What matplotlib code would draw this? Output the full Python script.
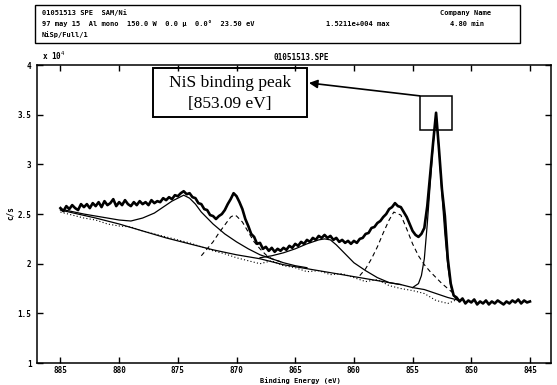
"""XPS Ni 2p spectrum with peak fit (NiS binding peak)."""

import numpy as np
import matplotlib.pyplot as plt
from matplotlib.patches import Rectangle

# measured spectrum, 885 -> 845 eV in 0.25 eV steps (counts x 1e4)
energy = np.linspace(885, 845, 161)
counts = [
    2.56, 2.53, 2.58, 2.55, 2.59, 2.56, 2.54, 2.60, 2.57, 2.60,
    2.56, 2.61, 2.58, 2.62, 2.57, 2.63, 2.59, 2.61, 2.65, 2.58,
    2.62, 2.59, 2.64, 2.60, 2.58, 2.62, 2.59, 2.63, 2.60, 2.62,
    2.59, 2.64, 2.61, 2.63, 2.62, 2.66, 2.64, 2.67, 2.65, 2.69,
    2.68, 2.71, 2.73, 2.70, 2.71, 2.67, 2.66, 2.61, 2.60, 2.55,
    2.54, 2.49, 2.48, 2.45, 2.48, 2.50, 2.54, 2.60, 2.65, 2.71,
    2.68, 2.62, 2.55, 2.45, 2.38, 2.30, 2.27, 2.20, 2.21, 2.15,
    2.17, 2.13, 2.16, 2.12, 2.15, 2.13, 2.16, 2.14, 2.18, 2.16,
    2.20, 2.18, 2.22, 2.20, 2.24, 2.22, 2.26, 2.24, 2.28, 2.26,
    2.29, 2.26, 2.28, 2.24, 2.26, 2.22, 2.24, 2.21, 2.23, 2.20,
    2.23, 2.21, 2.25, 2.26, 2.30, 2.31, 2.36, 2.37, 2.41, 2.43,
    2.47, 2.50, 2.55, 2.57, 2.61, 2.58, 2.57, 2.52, 2.47, 2.40,
    2.33, 2.29, 2.27, 2.30, 2.36, 2.58, 2.90, 3.22, 3.52, 3.15,
    2.75, 2.48, 2.05, 1.80, 1.68, 1.66, 1.62, 1.65, 1.60, 1.63,
    1.61, 1.64, 1.59, 1.62, 1.60, 1.63, 1.59, 1.62, 1.60, 1.63,
    1.61, 1.59, 1.62, 1.60, 1.63, 1.61, 1.64, 1.60, 1.63, 1.61,
    1.62,
]

# Shirley-type background
bg_e = [885, 882, 880, 878, 876, 874, 872, 870, 868, 866, 864, 862,
        860, 858, 856, 855, 854, 853, 852, 851]
bg_c = [2.54, 2.46, 2.40, 2.33, 2.26, 2.20, 2.14, 2.09, 2.05, 1.99, 1.95, 1.91,
        1.87, 1.83, 1.79, 1.76, 1.74, 1.70, 1.66, 1.63]

# background-subtracted residual points (dotted)
resid_e = [885, 884, 883, 882, 881, 880, 879, 878, 877, 876, 875, 874,
           873, 872, 871, 870, 869, 868, 867, 866, 865, 864, 863, 862,
           861, 860, 859, 858, 857, 856, 855, 854, 853, 852, 851]
resid_c = [2.52, 2.49, 2.46, 2.44, 2.40, 2.38, 2.37, 2.33, 2.30, 2.27, 2.24, 2.21,
           2.17, 2.13, 2.10, 2.06, 2.03, 2.00, 2.03, 1.98, 1.96, 1.92, 1.93, 1.89,
           1.90, 1.86, 1.82, 1.84, 1.78, 1.75, 1.73, 1.70, 1.63, 1.60, 1.65]

# fitted components (each on top of background)
comp1_e = [885, 883, 881, 880, 879, 878, 877, 876, 875.5, 875, 874.5, 874,
           873.5, 873, 872, 871, 870, 869, 868, 867, 866, 865, 864]
comp1_c = [2.55, 2.50, 2.46, 2.44, 2.43, 2.46, 2.51, 2.59, 2.63, 2.66, 2.69, 2.66,
           2.60, 2.52, 2.40, 2.30, 2.22, 2.15, 2.09, 2.05, 2.01, 1.98, 1.96]

comp2_e = [873, 872.5, 872, 871.5, 871, 870.5, 870.2, 870, 869.5, 869, 868.5,
           868, 867.5, 867, 866]
comp2_c = [2.08, 2.15, 2.22, 2.31, 2.39, 2.47, 2.49, 2.48, 2.42, 2.32, 2.22,
           2.15, 2.09, 2.05, 2.01]

comp3_e = [868, 867, 866, 865, 864, 863, 862.5, 862, 861.5, 861, 860.5, 860,
           859, 858, 857, 856]
comp3_c = [2.06, 2.08, 2.11, 2.15, 2.20, 2.24, 2.25, 2.24, 2.19, 2.13, 2.07, 2.01,
           1.93, 1.86, 1.81, 1.79]

comp4_e = [859.5, 859, 858.5, 858, 857.5, 857, 856.6, 856, 855.5, 855, 854.5,
           854, 853.5, 853, 852.5, 852, 851.5]
comp4_c = [1.88, 1.95, 2.05, 2.17, 2.31, 2.44, 2.52, 2.49, 2.35, 2.20, 2.08,
           1.99, 1.92, 1.86, 1.80, 1.75, 1.70]

nis_e = [855, 854.5, 854.25, 854, 853.75, 853.5, 853.25, 853, 852.75, 852.5,
         852.25, 852, 851.75, 851.5, 851.25, 851]
nis_c = [1.76, 1.80, 1.88, 2.05, 2.40, 2.80, 3.20, 3.50, 3.15, 2.70,
         2.30, 1.98, 1.78, 1.68, 1.64, 1.63]

x_ticks = [885, 880, 875, 870, 865, 860, 855, 850, 845]
y_ticks = [1, 1.5, 2, 2.5, 3, 3.5, 4]
y_tick_labels = ["1", "1.5", "2", "2.5", "3", "3.5", "4"]

mono = {"family": "DejaVu Sans Mono", "weight": "bold"}

fig = plt.figure(figsize=(5.57, 3.85), dpi=100)
ax = fig.add_axes([0.0664, 0.057, 0.923, 0.774])

ax.plot(energy, counts, color="black", lw=1.9)
ax.plot(bg_e, bg_c, color="black", lw=0.9)
ax.plot(resid_e, resid_c, color="black", lw=0.8, linestyle=(0, (1, 2)))
ax.plot(comp1_e, comp1_c, color="black", lw=0.9)
ax.plot(comp2_e, comp2_c, color="black", lw=0.8, linestyle=(0, (4, 3)))
ax.plot(comp3_e, comp3_c, color="black", lw=0.9)
ax.plot(comp4_e, comp4_c, color="black", lw=0.8, linestyle=(0, (4, 3)))
ax.plot(nis_e, nis_c, color="black", lw=0.9)

ax.set_xlim(887, 843.2)
ax.set_ylim(1, 4)
ax.set_xticks(x_ticks)
ax.set_xticklabels([str(t) for t in x_ticks], fontdict=mono, fontsize=5.5)
ax.set_yticks(y_ticks)
ax.set_yticklabels(y_tick_labels, fontdict=mono, fontsize=5.5)
ax.tick_params(direction="in", length=4, width=1, top=True, right=True, pad=4)
ax.tick_params(axis="x", pad=2)
for s in ax.spines.values():
    s.set_linewidth(1.1)

fig.text(300 / 557, 1 - 381 / 385, "Binding Energy (eV)", ha="center",
         va="center", fontsize=5, **mono)
fig.text(10 / 557, 1 - 213 / 385, "c/s", ha="center", va="center",
         rotation=90, fontsize=5.5, **mono)
fig.text(0.075, 0.845, r"x 10$^4$", fontsize=5.5, **mono)
fig.text(0.54, 0.845, "01051513.SPE", fontsize=5.5, ha="center", **mono)

# small box around the NiS peak and the label box with arrow
i_peak = int(np.argmax(counts))
px, py = energy[i_peak], counts[i_peak]
ax.add_patch(Rectangle((px + 1.4, py - 0.17), -2.8, 0.34, fill=False,
                       edgecolor="black", lw=1.1))
ax.add_patch(Rectangle((0.2257, 0.8255), 0.2993, 0.1645, transform=ax.transAxes,
                       fill=False, edgecolor="black", lw=1.4))
ax.text(0.375, 0.94, "NiS binding peak", transform=ax.transAxes, ha="center",
        va="center", family="Liberation Serif", fontsize=12.5)
ax.text(0.375, 0.87, "[853.09 eV]", transform=ax.transAxes, ha="center",
        va="center", family="Liberation Serif", fontsize=12.5)
ax.annotate("", xy=(0.529, 0.94), xycoords="axes fraction",
            xytext=(px + 1.4, py + 0.17), textcoords="data",
            arrowprops=dict(arrowstyle="-|>,head_length=0.5,head_width=0.25",
                            color="black", lw=1.2, shrinkA=0, shrinkB=0))

# header box
fig.add_artist(Rectangle((35 / 557, 1 - 43 / 385), 485 / 557, 38 / 385,
                         transform=fig.transFigure, fill=False,
                         edgecolor="black", lw=1.0))
hdr = dict(fontsize=5, **mono)
fig.text(42 / 557, 1 - 13 / 385, "01051513 SPE  SAM/Ni", va="center", **hdr)
fig.text(42 / 557, 1 - 24 / 385,
         "97 may 15  Al mono  150.0 W  0.0 \u03bc  0.0\u00b0  23.50 eV",
         va="center", **hdr)
fig.text(42 / 557, 1 - 35 / 385, "NiSp/Full/1", va="center", **hdr)
fig.text(326 / 557, 1 - 24 / 385, "1.5211e+004 max", va="center", **hdr)
fig.text(465 / 557, 1 - 13 / 385, "Company Name", va="center", ha="center", **hdr)
fig.text(467 / 557, 1 - 24 / 385, "4.80 min", va="center", ha="center", **hdr)

fig.savefig("out.png", dpi=100)
